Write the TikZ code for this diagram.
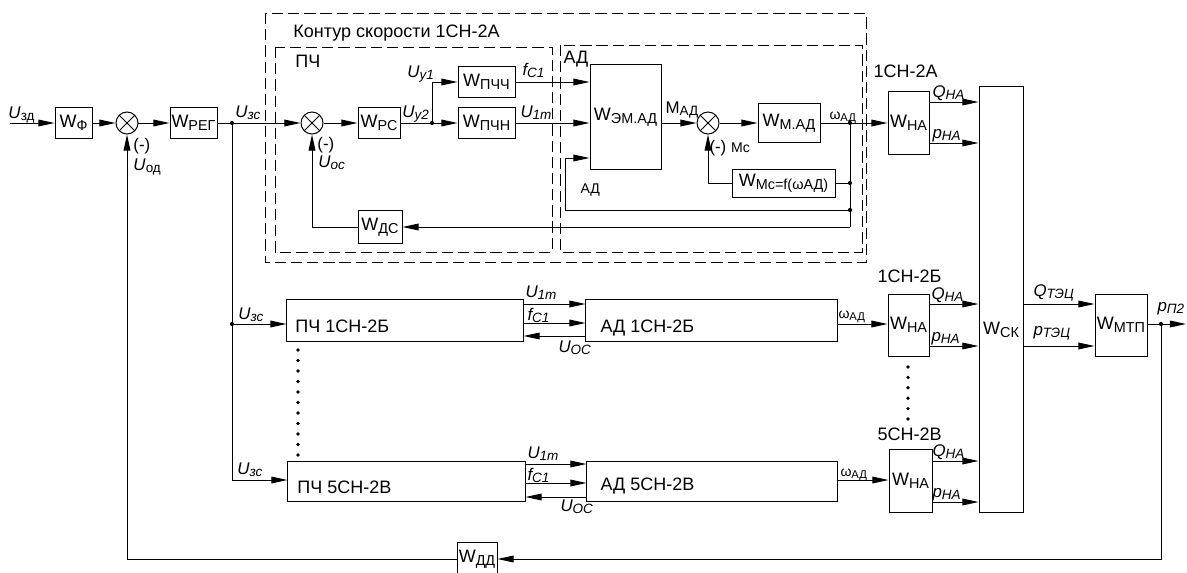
\documentclass[tikz,border=0pt]{standalone}
\usepackage{fontspec}
\usepackage{graphicx}
\setmainfont{Liberation Sans}
\usetikzlibrary{arrows.meta, positioning}

\newcommand{\sbx}[1]{\raisebox{-0.3ex}{\scalebox{0.8}{#1}}}
\newcommand{\Wb}[1]{W\sbx{#1}}
\newcommand{\sig}[2]{\textit{#1\sbx{#2}}}

\begin{document}
\begin{tikzpicture}[
  x=0.025cm, y=-0.025cm,
  font=\fontsize{12.8}{15}\selectfont,
  line width=0.7pt,
  >={Triangle[length=11.5pt,width=4.8pt]},
  blk/.style 2 args={draw, inner sep=1pt, minimum width=#1, minimum height=#2},
  summ/.style={circle, draw, minimum size=0.55cm, inner sep=0pt,
    path picture={\draw (path picture bounding box.north west) -- (path picture bounding box.south east)
      (path picture bounding box.north east) -- (path picture bounding box.south west);}},
  dashbox/.style={dash pattern=on 8pt off 3.5pt},
  lab/.style={inner sep=0pt, anchor=base west, font=\fontsize{12}{14}\selectfont},
  sml/.style={inner sep=0pt, anchor=base west, font=\fontsize{10}{11}\selectfont},
  ttl/.style={inner sep=0pt, anchor=base west}
]
\useasboundingbox (0,0) rectangle (1187,572);

% dashed frames
\draw[dashbox] (265,13) rectangle (866,262);
\draw[dashbox] (275,47) rectangle (552,252);
\draw[dashbox] (560,45) rectangle (862,252);
\node[ttl] (tkont) at (293,37) {Контур скорости 1СН-2А};
\node[ttl] (tpch) at (295,67) {ПЧ};
\node[ttl] (tad) at (563,63) {АД};

% speed loop 1CH-2A
\coordinate (in) at (10,123);
\node[blk={0.925cm}{0.775cm}] (wf) at (73.5,123) {\Wb{Ф}};
\node[summ] (s1) at (127,123) {};
\node[blk={1.175cm}{0.775cm}] (wreg) at (193.5,123) {\Wb{РЕГ}};
\coordinate (b1) at (232,123);
\node[summ] (s2) at (312,123) {};
\node[blk={1.05cm}{0.775cm}] (wrs) at (379,123) {\Wb{РС}};
\coordinate (b2) at (432,123);
\node[blk={1.425cm}{0.775cm}] (wpchch) at (486.5,82) {\Wb{ПЧЧ}};
\node[blk={1.425cm}{0.775cm}] (wpchn) at (486.5,123) {\Wb{ПЧН}};
\node[blk={1.775cm}{2.6cm}] (wem) at (625.5,117) {\Wb{ЭМ.АД}};
\node[summ] (s3) at (708,123) {};
\node[blk={1.55cm}{0.975cm}] (wmad) at (789,123) {\Wb{М.АД}};
\node[blk={2.575cm}{0.7cm}] (wmc) at (783.5,183) {\Wb{Mc=f(ωАД)}};
\coordinate (b3) at (850,123);
\coordinate (b4) at (850,183);
\coordinate (b5) at (850,210);
\coordinate (c1) at (850,227);
\coordinate (c2) at (565,210);
\node[blk={1.1cm}{0.825cm}] (wds) at (380,227) {\Wb{ДС}};
\node[blk={1.025cm}{1.575cm}] (wna1) at (908.5,123) {\Wb{НА}};
\node[blk={1.1cm}{10.625cm}] (wsk) at (1001,299.5) {};
\node (tsk) at (1001,330) {\Wb{СК}};

\draw[->] (in) -- (wf);
\draw[->] (wf) -- (s1);
\draw[->] (s1) -- (wreg);
\draw[->] (wreg) -- (s2);
\draw[->] (s2) -- (wrs);
\draw[->] (wrs) -- (wpchn);
\draw[->] (b2) |- (wpchch);
\draw[->] (wpchch) -- (wpchch -| wem.west);
\draw[->] (wpchn) -- (wpchn -| wem.west);
\draw[->] (c2) |- (wem.west |- 0,158);
\draw (c2) -- (b5);
\draw[->] (wem.east |- s3) -- (s3);
\draw[->] (s3) -- (wmad);
\draw[->] (wmad) -- (wna1);
\draw (b3) -- (c1);
\draw (b4) -- (wmc);
\draw[->] (wmc) -| (s3);
\draw[->] (c1) -- (wds);
\draw[->] (wds) -| (s2);
\draw[->] (wna1.east |- 0,102) -- (wsk.west |- 0,102);
\draw[->] (wna1.east |- 0,143) -- (wsk.west |- 0,143);

\node[lab] (luzd) at (8,118) {\textit{U}\sbx{зд}};
\node[lab] (luzs1) at (235,117) {\sig{U}{зс}};
\node[lab] (lm1) at (133,150) {(-)};
\node[lab] (luod) at (133,170) {\textit{U}\sbx{од}};
\node[lab] (lm2) at (317,149) {(-)};
\node[lab] (luos) at (318,167) {\sig{U}{ос}};
\node[lab] (luy1) at (407,77) {\sig{U}{у1}};
\node[lab] (luy2) at (402,117) {\sig{U}{у2}};
\node[lab] (lfc1) at (522,75) {\sig{f}{C1}};
\node[lab] (lu1m) at (520,117) {\sig{U}{1m}};
\node[lab] (lmad) at (665,113) {M\sbx{АД}};
\node[lab] (lmc) at (709,152) {(-) {\fontsize{10}{11}\selectfont Mc}};
\node[sml] (lw1) at (829,119) {ω\sbx{АД}};
\node[sml] (lad) at (580,193) {АД};
\node[ttl] (t1a) at (873,77) {1СН-2А};
\node[lab] (lq1) at (932,97) {\sig{Q}{НА}};
\node[lab] (lp1) at (932,138) {\sig{p}{НА}};

% pump unit 1CH-2B
\coordinate (b6) at (232,324);
\node[blk={5.9cm}{1.05cm}] (pch1) at (405,320) {};
\node[ttl] (tpch1) at (295,332) {ПЧ 1СН-2Б};
\node[blk={6.275cm}{1.05cm}] (ad1) at (711.5,320) {};
\node[ttl] (tad1) at (600,332) {АД 1СН-2Б};
\node[blk={1.025cm}{1.55cm}] (wna2) at (908.5,325) {\Wb{НА}};
\node[blk={1.3cm}{1.55cm}] (wmtp) at (1121,325) {\Wb{МТП}};
\coordinate (b7) at (1161,324);
\coordinate (out) at (1186,324);

\draw (b1) -- (232,480) coordinate (c3);
\draw[->] (b6) -- (b6 -| pch1.west);
\draw[->] (pch1.east |- 0,304) -- (ad1.west |- 0,304);
\draw[->] (pch1.east |- 0,323) -- (ad1.west |- 0,323);
\draw[->] (ad1.west |- 0,336) -- (pch1.east |- 0,336);
\draw[->] (ad1.east |- 0,324) -- (wna2.west |- 0,324);
\draw[->] (wna2.east |- 0,304) -- (wsk.west |- 0,304);
\draw[->] (wna2.east |- 0,346) -- (wsk.west |- 0,346);
\draw[->] (wsk.east |- 0,304) -- (wmtp.west |- 0,304);
\draw[->] (wsk.east |- 0,346) -- (wmtp.west |- 0,346);
\draw[->] (wmtp.east |- 0,324) -- (out);

\node[lab] (luzs2) at (238,319) {\sig{U}{зс}};
\node[lab] (lu1m2) at (525,297) {\sig{U}{1m}};
\node[lab] (lfc2) at (527,320) {\sig{f}{C1}};
\node[lab] (luoc2) at (558,352) {\sig{U}{ОС}};
\node[sml] (lw2) at (838,318) {ω\sbx{АД}};
\node[ttl] (t1b) at (877,282) {1СН-2Б};
\node[lab] (lq2) at (931,299) {\sig{Q}{НА}};
\node[lab] (lp2) at (931,341) {\sig{p}{НА}};
\node[lab] (lqt) at (1033,296) {\sig{Q}{ТЭЦ}};
\node[lab] (lpt) at (1033,335) {\sig{p}{ТЭЦ}};
\node[lab] (lpp) at (1157,311) {\sig{p}{П2}};

% pump unit 5CH-2B
\node[blk={5.925cm}{1cm}] (pch5) at (406.5,481) {};
\node[ttl] (tpch5) at (297,493) {ПЧ 5СН-2В};
\node[blk={6.25cm}{1cm}] (ad5) at (712,481) {};
\node[ttl] (tad5) at (600,490) {АД 5СН-2В};
\node[blk={1.075cm}{1.575cm}] (wna3) at (910.5,480.5) {\Wb{НА}};
\node[blk={1cm}{0.85cm}] (wdd) at (477,559) {\Wb{ДД}};

\draw[->] (c3) -- (c3 -| pch5.west);
\draw[->] (pch5.east |- 0,464) -- (ad5.west |- 0,464);
\draw[->] (pch5.east |- 0,483) -- (ad5.west |- 0,483);
\draw[->] (ad5.west |- 0,497) -- (pch5.east |- 0,497);
\draw[->] (ad5.east |- 0,480) -- (wna3.west |- 0,480);
\draw[->] (wna3.east |- 0,461) -- (wsk.west |- 0,461);
\draw[->] (wna3.east |- 0,502) -- (wsk.west |- 0,502);
\draw[->] (b7) |- (wdd);
\draw[->] (wdd) -| (s1);

\node[lab] (luzs3) at (237,474) {\sig{U}{зс}};
\node[lab] (lu1m3) at (527,458) {\sig{U}{1m}};
\node[lab] (lfc3) at (527,480) {\sig{f}{C1}};
\node[lab] (luoc3) at (560,511) {\sig{U}{ОС}};
\node[sml] (lw3) at (840,476) {ω\sbx{АД}};
\node[ttl] (t5v) at (877,440) {5СН-2В};
\node[lab] (lq3) at (932,456) {\sig{Q}{НА}};
\node[lab] (lp3) at (932,497) {\sig{p}{НА}};

% branch points and dotted gaps
\foreach \p in {b1,b2,b3,b4,b5,b6,b7} \fill (\p) circle[radius=1.5pt];
\foreach \y in {350,360.5,...,456} \fill (298,\y) circle[radius=1.3pt];
\foreach \y in {367,377.4,...,420} \fill (908,\y) circle[radius=1.3pt];
\end{tikzpicture}
\end{document}
